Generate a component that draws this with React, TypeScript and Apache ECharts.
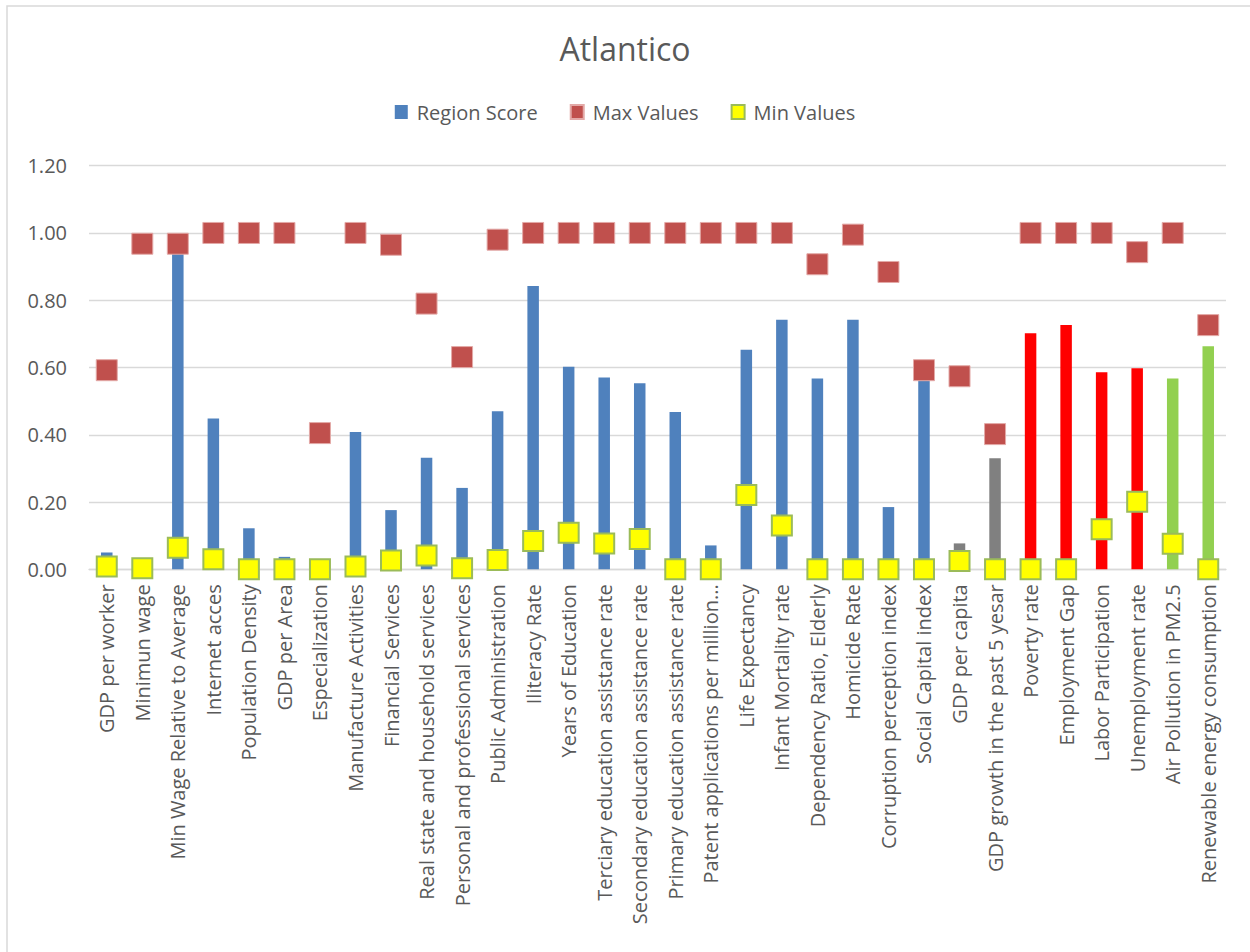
import React, { useEffect, useRef } from "react";
import * as echarts from "echarts";

// Indicator names shown on the category axis
const categories: string[] = [
  "GDP per worker",
  "Minimun wage",
  "Min Wage Relative to Average",
  "Internet acces",
  "Population Density",
  "GDP per Area",
  "Especialization",
  "Manufacture Activities",
  "Financial Services",
  "Real state and household services",
  "Personal and professional services",
  "Public Administration",
  "Iliteracy Rate",
  "Years of Education",
  "Terciary education assistance rate",
  "Secondary education assistance rate",
  "Primary education assistance rate",
  "Patent applications per million...",
  "Life Expectancy",
  "Infant Mortality rate",
  "Dependency Ratio, Elderly",
  "Homicide Rate",
  "Corruption perception index",
  "Social Capital index",
  "GDP per capita",
  "GDP growth in the past 5 yesar",
  "Poverty rate",
  "Employment Gap",
  "Labor Participation",
  "Unemployment rate",
  "Air Pollution in PM2.5",
  "Renewable energy consumption",
];

// Atlantico's normalised score per indicator
const regionScore: number[] = [
  0.05, 0, 0.95, 0.448, 0.122, 0.037, 0, 0.408, 0.176, 0.332, 0.242, 0.47,
  0.842, 0.602, 0.57, 0.553, 0.468, 0.071, 0.653, 0.742, 0.567, 0.742, 0.185,
  0.58, 0.077, 0.33, 0.702, 0.726, 0.586, 0.598, 0.567, 0.663,
];

// Highest value among all regions
const maxValues: number[] = [
  0.592, 0.968, 0.968, 1, 1, 1, 0.405, 1, 0.965, 0.79, 0.631, 0.98, 1, 1, 1, 1,
  1, 1, 1, 1, 0.907, 0.995, 0.884, 0.592, 0.574, 0.402, 1, 1, 1, 0.943, 1,
  0.726,
];

// Lowest value among all regions
const minValues: number[] = [
  0.008, 0.003, 0.064, 0.03, 0, 0, 0, 0.008, 0.026, 0.041, 0.003, 0.028, 0.084,
  0.109, 0.077, 0.09, 0, 0, 0.221, 0.13, 0, 0, 0, 0, 0.025, 0, 0, 0, 0.119,
  0.201, 0.076, 0,
];

// Indicator family, used to pick the bar colour
const indicatorGroup: string[] = [
  "base", "base", "base", "base", "base", "base", "base", "base", "base",
  "base", "base", "base", "base", "base", "base", "base", "base", "base",
  "base", "base", "base", "base", "base", "base", "growth", "growth",
  "labour", "labour", "labour", "labour", "environment", "environment",
];

const yTicks = { min: 0, max: 1.2, interval: 0.2 };

const groupColor: Record<string, string> = {
  base: "#4F81BD",
  growth: "#808080",
  labour: "#FF0000",
  environment: "#92D050",
};

const FONT = "'Open Sans', 'DejaVu Sans', sans-serif";
const TEXT = "#595959";
const GRID = "#D9D9D9";

export default function App() {
  const ref = useRef<HTMLDivElement>(null);

  useEffect(() => {
    if (!ref.current) return;
    const chart = echarts.init(ref.current, undefined, { renderer: "svg" });

    chart.setOption({
      animation: false,
      backgroundColor: "#FFFFFF",
      textStyle: { fontFamily: FONT },
      graphic: [
        {
          type: "rect",
          shape: { x: 7, y: 6, width: 1300, height: 1000 },
          style: { fill: "none", stroke: GRID, lineWidth: 1.5 },
          silent: true,
        },
      ],
      title: {
        text: "Atlantico",
        left: "center",
        top: 27,
        textStyle: {
          fontFamily: FONT,
          fontSize: 32,
          fontWeight: "normal",
          color: TEXT,
        },
      },
      legend: {
        top: 97,
        left: "center",
        itemWidth: 13,
        itemHeight: 14,
        itemGap: 32,
        textStyle: {
          fontFamily: FONT,
          fontSize: 20,
          color: TEXT,
          padding: [0, 0, 0, 4],
        },
        data: [
          { name: "Region Score", icon: "rect" },
          { name: "Max Values", icon: "rect" },
          { name: "Min Values", icon: "rect" },
        ],
      },
      grid: {
        left: 89,
        right: 24,
        top: 165.7,
        bottom: 382.7,
        containLabel: false,
      },
      xAxis: {
        type: "category",
        data: categories,
        axisTick: { show: false },
        axisLine: { lineStyle: { color: GRID, width: 1.3 } },
        axisLabel: {
          rotate: 90,
          interval: 0,
          margin: 15,
          fontFamily: FONT,
          fontSize: 20,
          color: TEXT,
        },
      },
      yAxis: {
        type: "value",
        min: yTicks.min,
        max: yTicks.max,
        interval: yTicks.interval,
        axisLine: { show: false },
        axisTick: { show: false },
        splitLine: { lineStyle: { color: GRID, width: 1.3 } },
        axisLabel: {
          margin: 22,
          fontFamily: FONT,
          fontSize: 20,
          color: TEXT,
          formatter: (v: number) => v.toFixed(2),
        },
      },
      series: [
        {
          name: "Region Score",
          type: "bar",
          barWidth: 11.5,
          itemStyle: { color: groupColor.base },
          data: regionScore.map((v, i) => ({
            value: v,
            itemStyle: { color: groupColor[indicatorGroup[i]] },
          })),
          z: 2,
        },
        {
          name: "Max Values",
          type: "scatter",
          symbol: "rect",
          symbolSize: 21,
          itemStyle: {
            color: "#C0504D",
            borderColor: "#E3A9A7",
            borderWidth: 1,
            opacity: 1,
          },
          data: maxValues,
          z: 3,
        },
        {
          name: "Min Values",
          type: "scatter",
          symbol: "rect",
          symbolSize: 20,
          itemStyle: {
            color: "#FFFF00",
            borderColor: "#9BBB59",
            borderWidth: 2,
            opacity: 1,
          },
          data: minValues,
          z: 4,
        },
      ],
    });

    return () => chart.dispose();
  }, []);

  return (
    <div
      ref={ref}
      style={{ position: "absolute", left: 0, top: 0, width: 1250, height: 952 }}
    />
  );
}
